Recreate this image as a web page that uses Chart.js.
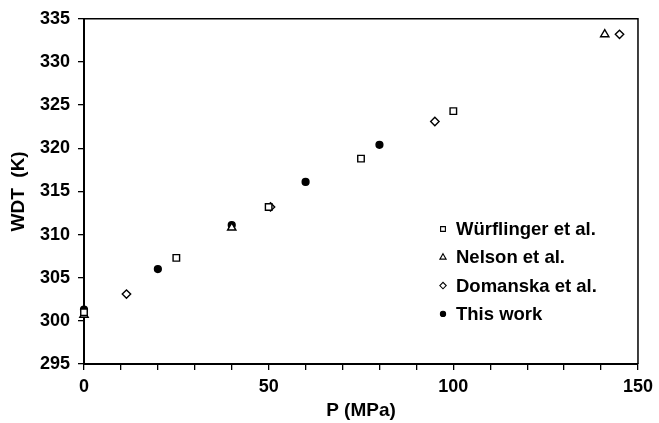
<!DOCTYPE html>
<html><head><meta charset="utf-8">
<script src="https://cdn.jsdelivr.net/npm/chart.js@4/dist/chart.umd.min.js"></script>
<style>html,body{margin:0;padding:0;background:#fff;overflow:hidden;} #wrap{width:659px;height:423px;}</style>
</head><body><div id="wrap"><canvas id="c" width="659" height="423"></canvas></div>
<script>
const wurflingerP = [0, 25, 50, 75, 100];
const wurflingerT = [301.0, 307.3, 313.2, 318.8, 324.3];
const nelsonP = [0, 40, 141];
const nelsonT = [300.7, 310.8, 333.2];
const domanskaP = [11.5, 50.5, 95, 145];
const domanskaT = [303.1, 313.2, 323.1, 333.2];
const thisWorkP = [0, 20, 40, 60, 80];
const thisWorkT = [301.3, 306.0, 311.1, 316.1, 320.4];
const seriesLabels = ['Würflinger et al.', 'Nelson et al.', 'Domanska et al.', 'This work'];
const xTickLabels = [0, 50, 100, 150];
const yTickLabels = [295, 300, 305, 310, 315, 320, 325, 330, 335];
const xTitle = 'P (MPa)';
const yTitle = 'WDT  (K)';

const FONT = '"Liberation Sans", Arial, Helvetica, sans-serif';
const pts = (xs, ys) => xs.map((x, i) => ({x: x, y: ys[i]}));

const styles = [
  {pointStyle: 'rect', pointRadius: 4.6, bg: '#fff', legR: 3.4},
  {pointStyle: 'triangle', pointRadius: 4.8, bg: '#fff', legR: 3.6},
  {pointStyle: 'rectRot', pointRadius: 4.2, bg: '#fff', legR: 3.2},
  {pointStyle: 'circle', pointRadius: 3.4, bg: '#000', legR: 2.6}
];
const seriesData = [pts(wurflingerP, wurflingerT), pts(nelsonP, nelsonT), pts(domanskaP, domanskaT), pts(thisWorkP, thisWorkT)];

const datasets = seriesLabels.map((lab, i) => ({
  label: lab,
  data: seriesData[i],
  pointStyle: styles[i].pointStyle,
  pointRadius: styles[i].pointRadius,
  pointBackgroundColor: styles[i].bg,
  pointBorderColor: '#000',
  pointBorderWidth: 1.4,
  showLine: false,
  clip: false
}));

const boxPlugin = {
  id: 'box',
  afterDraw(chart) {
    const {ctx, chartArea: a} = chart;
    ctx.save();
    ctx.strokeStyle = '#000';
    ctx.lineWidth = 1.5;
    ctx.beginPath();
    ctx.moveTo(a.left, a.top);
    ctx.lineTo(a.right, a.top);
    ctx.lineTo(a.right, a.bottom);
    ctx.stroke();
    // legend
    const mx = 443, tx = 456, y0 = 229, dy = 28.3;
    ctx.font = 'bold 18.5px ' + FONT;
    ctx.textBaseline = 'middle';
    ctx.textAlign = 'left';
    chart.data.datasets.forEach((ds, i) => {
      const y = y0 + i * dy;
      ctx.fillStyle = styles[i].bg;
      ctx.strokeStyle = '#000';
      ctx.lineWidth = 1.1;
      Chart.helpers.drawPoint(ctx, {pointStyle: styles[i].pointStyle, radius: styles[i].legR, rotation: 0, borderWidth: 1.1}, mx, y);
      ctx.fillStyle = '#000';
      ctx.fillText(ds.label, tx, y + 1);
    });
    ctx.restore();
  }
};

const tickFont = {family: FONT, size: 18, weight: 'bold'};
const titleFont = {family: FONT, size: 19, weight: 'bold'};

new Chart(document.getElementById('c'), {
  type: 'scatter',
  data: {datasets: datasets},
  options: {
    responsive: false,
    animation: false,
    devicePixelRatio: 1,
    layout: {padding: {left: 0, top: 17, right: 20, bottom: 0}},
    plugins: {legend: {display: false}, tooltip: {enabled: false}},
    scales: {
      x: {
        type: 'linear', min: 0, max: 150,
        afterFit: s => { s.height = 59; },
        ticks: {stepSize: 10, autoSkip: false, maxRotation: 0, color: '#000', font: tickFont, padding: 6,
          callback: v => xTickLabels.includes(v) ? String(v) : ''},
        grid: {drawOnChartArea: false, drawTicks: true, tickLength: 6, color: '#000', lineWidth: 1.3},
        border: {color: '#000', width: 2},
        title: {display: true, text: xTitle, color: '#000', font: titleFont, padding: {top: 4, bottom: 1}}
      },
      y: {
        type: 'linear', min: 295, max: 335,
        afterFit: s => { s.width = 84; },
        ticks: {stepSize: 5, autoSkip: false, color: '#000', font: tickFont, padding: 8,
          callback: v => yTickLabels.includes(v) ? String(v) : ''},
        grid: {drawOnChartArea: false, drawTicks: true, tickLength: 6, color: '#000', lineWidth: 1.3},
        border: {color: '#000', width: 2},
        title: {display: true, text: yTitle, color: '#000', font: titleFont, padding: {top: 7, bottom: 4}}
      }
    }
  },
  plugins: [boxPlugin]
});
</script>
</body></html>
